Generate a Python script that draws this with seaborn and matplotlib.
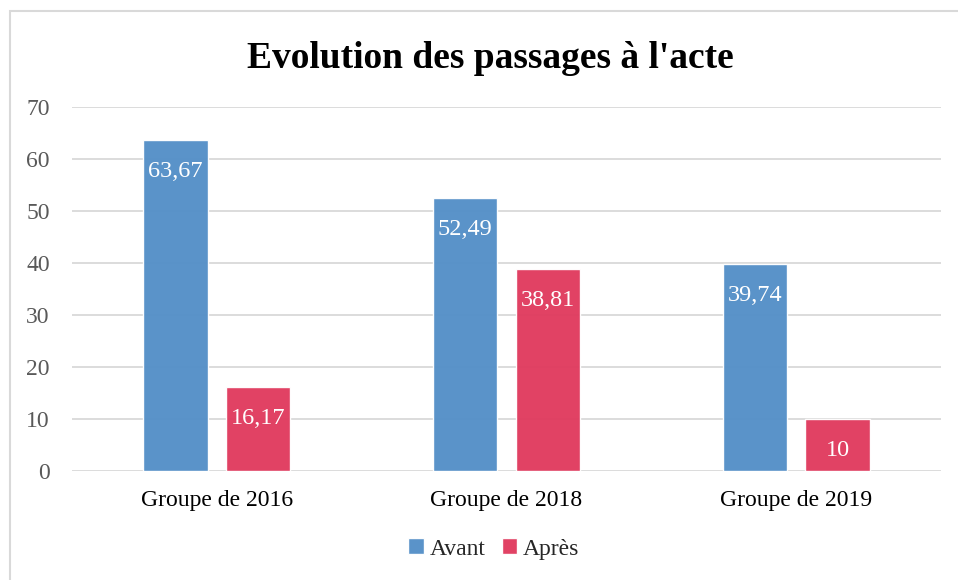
import pandas as pd
import seaborn as sns
import matplotlib.pyplot as plt
from matplotlib.patches import Rectangle

groups = ["Groupe de 2016", "Groupe de 2018", "Groupe de 2019"]
avant = [63.67, 52.49, 39.74]
apres = [16.17, 38.81, 10]
series = ["Avant", "Après"]
labels_avant = ["63,67", "52,49", "39,74"]
labels_apres = ["16,17", "38,81", "10"]

df = pd.DataFrame({
    "groupe": groups * 2,
    "valeur": avant + apres,
    "serie": [series[0]] * 3 + [series[1]] * 3,
})

sns.set_theme(style="white")
plt.rcParams["font.family"] = ["Liberation Serif", "DejaVu Serif"]

fig = plt.figure(figsize=(9.58, 5.8), dpi=100)
ax = fig.add_axes([0.0752, 0.1879, 0.9071, 0.6276])

colors = ["#5590c8", "#e03c5f"]
sns.barplot(data=df, x="groupe", y="valeur", hue="serie", palette=colors,
            saturation=1, width=0.57, gap=0.22, alpha=0.97, ax=ax, legend=True)

ax.set_ylim(0, 70)
ax.set_yticks(range(0, 71, 10))
ax.yaxis.grid(True, color="#d9d9d9", linewidth=1.3)
ax.set_axisbelow(True)
for s in ax.spines.values():
    s.set_visible(False)
ax.set_xlabel("")
ax.set_ylabel("")
ax.tick_params(axis="y", labelsize=17, colors="#595959", pad=16, length=0)
ax.tick_params(axis="x", labelsize=17, colors="#000000", pad=14, length=0)

# valeurs en blanc dans le haut des barres
for cont, labs in zip(ax.containers, [labels_avant, labels_apres]):
    ax.bar_label(cont, labels=labs, label_type="edge", padding=-30,
                 color="white", fontsize=17.5)

leg = ax.legend(loc="center", bbox_to_anchor=(494 / 958, 1 - 549 / 580),
                bbox_transform=fig.transFigure, ncol=2,
                frameon=False, fontsize=17, handlelength=0.65, handleheight=0.65,
                handletextpad=0.25, columnspacing=0.7)

fig.text(490 / 958, 0.9, "Evolution des passages à l'acte", ha="center", va="center",
         fontsize=27, fontweight="bold", color="black")

# cadre gris clair autour du graphique
fig.patches.append(Rectangle((10 / 958, -0.1), 1.2, 1 - 11 / 580 + 0.1,
                             transform=fig.transFigure, fill=False,
                             edgecolor="#d9d9d9", linewidth=1.5))

fig.savefig("out.png", dpi=100)
